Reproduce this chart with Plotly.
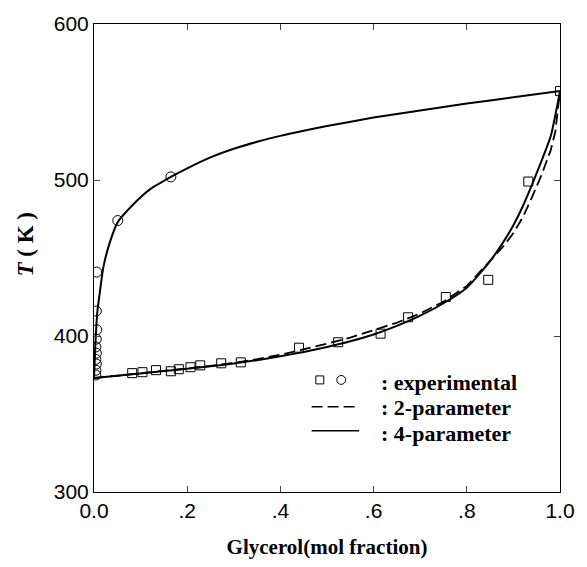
import plotly.graph_objects as go

# ---- data ----
# experimental liquid (squares)
sq_x = [0.082, 0.104, 0.133, 0.165, 0.182, 0.207, 0.228, 0.273, 0.315, 0.44, 0.524, 0.615, 0.674, 0.755, 0.846, 0.932, 1.0]
sq_T = [376.2, 376.8, 378.1, 377.4, 378.7, 380.0, 381.2, 382.5, 383.1, 392.5, 396.0, 401.5, 412.0, 425.0, 436.0, 499.0, 557.0]
# experimental vapour (circles)
ci_x = [0.004, 0.004, 0.005, 0.004, 0.005, 0.004, 0.005, 0.006, 0.005, 0.006, 0.051, 0.165]
ci_T = [375, 378, 382, 385, 389, 393, 398, 404, 416, 441, 474, 502]

# 4-parameter model (solid) - liquid branch
liq4_x = [0, 0.05, 0.1, 0.15, 0.2, 0.25, 0.3, 0.35, 0.4, 0.45, 0.5, 0.55, 0.6, 0.65, 0.7, 0.75, 0.8, 0.85, 0.88, 0.9, 0.92, 0.94, 0.96, 0.98, 1.0]
liq4_T = [373, 374.5, 376, 377.5, 379, 380.6, 382.4, 384.5, 387, 389.8, 393, 396.6, 401, 406.5, 413, 421, 431, 448, 461, 471, 483, 497, 512, 528, 557]
# 2-parameter model (dashed) - liquid branch
liq2_x = [0, 0.05, 0.1, 0.15, 0.2, 0.25, 0.3, 0.35, 0.4, 0.45, 0.5, 0.55, 0.6, 0.65, 0.7, 0.75, 0.8, 0.85, 0.88, 0.9, 0.92, 0.94, 0.96, 0.98, 0.99, 1.0]
liq2_T = [373, 374.5, 376, 377.5, 379, 380.8, 382.8, 385.1, 388, 391.3, 395, 399, 403.5, 408.5, 414.5, 422, 432, 448, 458, 466, 476, 489, 503, 519, 531, 557]
# vapour branch (both models coincide)
vap_x = [0, 0.003, 0.007, 0.013, 0.02, 0.034, 0.051, 0.083, 0.12, 0.165, 0.2, 0.25, 0.3, 0.35, 0.4, 0.45, 0.5, 0.6, 0.7, 0.8, 0.9, 1.0]
vap_T = [373, 395, 415, 429, 444, 460, 473, 484, 494, 502, 507.5, 514.5, 520, 524.5, 528.3, 531.6, 534.6, 540, 544.5, 549, 553, 557]

x_ticks = [0, 0.2, 0.4, 0.6, 0.8, 1.0]
x_ticktext = ["0.0", ".2", ".4", ".6", ".8", "1.0"]
y_ticks = [300, 400, 500, 600]

legend_labels = [": experimental", ": 2-parameter", ": 4-parameter"]

fig = go.Figure()
fig.add_trace(go.Scatter(x=liq2_x, y=liq2_T, mode="lines", line=dict(color="black", width=1.8, dash="11px,5px"), showlegend=False))
fig.add_trace(go.Scatter(x=liq4_x, y=liq4_T, mode="lines", line=dict(color="black", width=2, shape="spline", smoothing=0.6), showlegend=False))
fig.add_trace(go.Scatter(x=vap_x, y=vap_T, mode="lines", line=dict(color="black", width=2, shape="spline", smoothing=0.6), showlegend=False))
fig.add_trace(go.Scatter(x=sq_x, y=sq_T, mode="markers", marker=dict(symbol="square-open", size=9, color="black", line=dict(width=1)), showlegend=False))
fig.add_trace(go.Scatter(x=ci_x, y=ci_T, mode="markers", marker=dict(symbol="circle-open", size=10, color="black", line=dict(width=1)), showlegend=False))

tfont = dict(family="Liberation Sans, Arial", size=21, color="black")
serif = "Liberation Serif, Times New Roman"
fig.update_xaxes(range=[0, 1.0], tickvals=x_ticks, ticktext=x_ticktext, ticks="inside", ticklen=6,
                 showline=True, linecolor="black", linewidth=1, mirror="ticks", showgrid=False, zeroline=False,
                 tickfont=tfont,
                 title=dict(text="<b>Glycerol(mol fraction)</b>", font=dict(family=serif, size=21, color="black"), standoff=18))
fig.update_yaxes(range=[300, 600], tickvals=y_ticks, ticks="inside", ticklen=6,
                 showline=True, linecolor="black", linewidth=1, mirror="ticks", showgrid=False, zeroline=False,
                 tickfont=tfont)

# y-axis title
fig.add_annotation(xref="paper", yref="paper", x=-0.178, y=0.53, text="<b><i>T</i> ( K )</b>", textangle=-90,
                   showarrow=False, font=dict(family=serif, size=23, color="black"))

# legend (drawn manually)
lf = dict(family=serif, size=22, color="black")
row_y = [0.233, 0.180, 0.124]
for lab, yy in zip(legend_labels, row_y):
    fig.add_annotation(xref="paper", yref="paper", x=0.611, y=yy, text="<b>%s</b>" % lab, showarrow=False,
                       xanchor="left", yanchor="middle", font=lf)
# legend symbols
fig.add_shape(type="rect", xref="paper", yref="paper", x0=0.476, x1=0.493, y0=0.231, y1=0.248,
              line=dict(color="black", width=1))
fig.add_shape(type="circle", xref="paper", yref="paper", x0=0.521, x1=0.540, y0=0.230, y1=0.249,
              line=dict(color="black", width=1))
fig.add_shape(type="line", xref="paper", yref="paper", x0=0.467, x1=0.569, y0=0.182, y1=0.182,
              line=dict(color="black", width=1.5, dash="11px,5px"))
fig.add_shape(type="line", xref="paper", yref="paper", x0=0.467, x1=0.569, y0=0.131, y1=0.131,
              line=dict(color="black", width=1.5))

fig.update_layout(
    width=587, height=567,
    margin=dict(l=94, r=20, t=22, b=72),
    plot_bgcolor="white", paper_bgcolor="white",
)
fig.write_html("out.html")
